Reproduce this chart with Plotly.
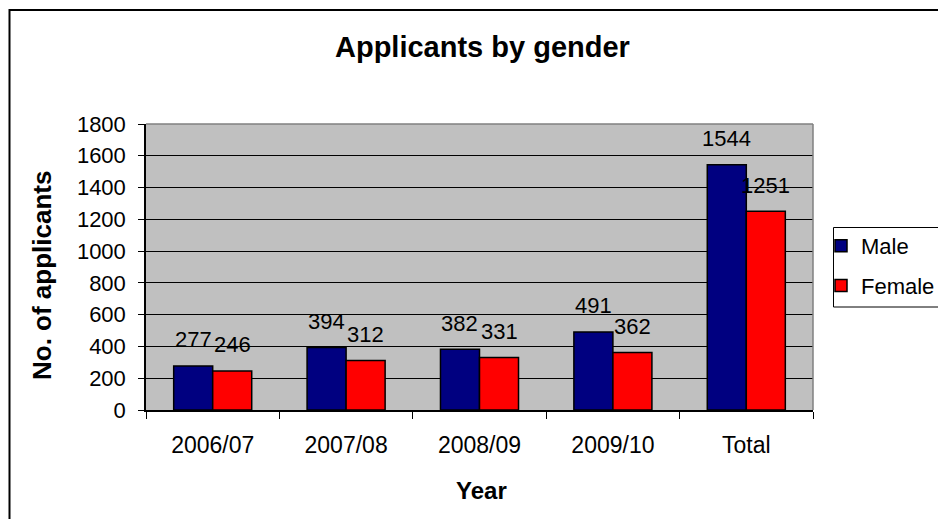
import plotly.graph_objects as go

categories = ["2006/07", "2007/08", "2008/09", "2009/10", "Total"]
male = [277, 394, 382, 491, 1544]
female = [246, 312, 331, 362, 1251]
y_ticks = [0, 200, 400, 600, 800, 1000, 1200, 1400, 1600, 1800]

FONT = "Liberation Sans, Arial, sans-serif"
OFF = 8  # default body margin of the page
W, H = 946 - 2 * OFF, 527 - 2 * OFF
# plot area in page px
PL, PR, PT, PB = 146, 813, 124, 410
L, R, T, B = PL - OFF, PR - OFF, PT - OFF, PB - OFF

fig = go.Figure()
fig.add_trace(go.Bar(name="Male", x=categories, y=male, legendgroup="m",
                     marker=dict(color="#000080", line=dict(color="black", width=1.5))))
fig.add_trace(go.Bar(name="Female", x=categories, y=female, legendgroup="f",
                     marker=dict(color="#FF0000", line=dict(color="black", width=1.5))))

bar_px = (R - L) / len(categories) * (1 - 0.415) / 2
for c, v in zip(categories, male):
    fig.add_annotation(x=c, y=v, text=str(v), showarrow=False, xshift=-bar_px / 2,
                       yshift=26, yanchor="middle", font=dict(family=FONT, size=22, color="black"))
for c, v in zip(categories, female):
    fig.add_annotation(x=c, y=v, text=str(v), showarrow=False, xshift=bar_px / 2,
                       yshift=26, yanchor="middle", font=dict(family=FONT, size=22, color="black"))

pw, ph = PR - PL, PB - PT
def px_x(p):  # page px -> paper
    return (p - PL) / pw
def px_y(p):
    return (PB - p) / ph

# title
fig.add_annotation(text="<b>Applicants by gender</b>", xref="paper", yref="paper",
                   x=px_x(482), y=px_y(47), showarrow=False, xanchor="center", yanchor="middle",
                   font=dict(family=FONT, size=29, color="black"))
# axis titles
fig.add_annotation(text="<b>Year</b>", xref="paper", yref="paper",
                   x=px_x(481), y=px_y(490), showarrow=False, xanchor="center", yanchor="middle",
                   font=dict(family=FONT, size=24, color="black"))
fig.add_annotation(text="<b>No. of applicants</b>", xref="paper", yref="paper",
                   x=px_x(42), y=px_y(276), showarrow=False, xanchor="center", yanchor="middle",
                   textangle=-90, font=dict(family=FONT, size=26, color="black"))

# outer frame
fig.add_shape(type="rect", xref="paper", yref="paper",
              x0=px_x(9.5), x1=px_x(980), y0=px_y(560), y1=px_y(10),
              line=dict(color="black", width=2), layer="below")
# legend box
fig.add_shape(type="rect", xref="paper", yref="paper",
              x0=px_x(833.5), x1=px_x(990), y0=px_y(307), y1=px_y(227.5),
              line=dict(color="black", width=1), layer="below")
# plot area border top/right
fig.add_shape(type="line", xref="paper", yref="paper", x0=0, x1=1, y0=1, y1=1,
              line=dict(color="#808080", width=1.5))
fig.add_shape(type="line", xref="paper", yref="paper", x0=1, x1=1, y0=0, y1=1,
              line=dict(color="#808080", width=1.5))

fig.update_layout(
    width=W, height=H,
    margin=dict(l=L, r=W - R, t=T, b=H - B, pad=0, autoexpand=False),
    paper_bgcolor="white", plot_bgcolor="#C0C0C0",
    barmode="group", bargap=0.415, bargroupgap=0,
    font=dict(family=FONT, size=22, color="black"),
    showlegend=True,
    legend=dict(x=px_x(821), y=px_y(225), xanchor="left", yanchor="top",
                borderwidth=0, bgcolor="rgba(0,0,0,0)",
                font=dict(family=FONT, size=22, color="black"),
                tracegroupgap=8, itemclick=False),
)
fig.update_xaxes(type="category", showline=True, linecolor="black", linewidth=1.5,
                 ticks="outside", tickson="boundaries", ticklen=7, tickcolor="black",
                 tickfont=dict(family=FONT, size=23, color="black"), ticklabelstandoff=14,
                 showgrid=False, zeroline=False)
fig.update_yaxes(range=[0, 1800], tickvals=y_ticks, showline=True, linecolor="black", linewidth=1.5,
                 ticks="outside", ticklen=6, tickcolor="black",
                 tickfont=dict(family=FONT, size=22, color="black"), ticklabelstandoff=8,
                 showgrid=True, gridcolor="black", gridwidth=1, zeroline=False)

fig.write_html("out.html")
